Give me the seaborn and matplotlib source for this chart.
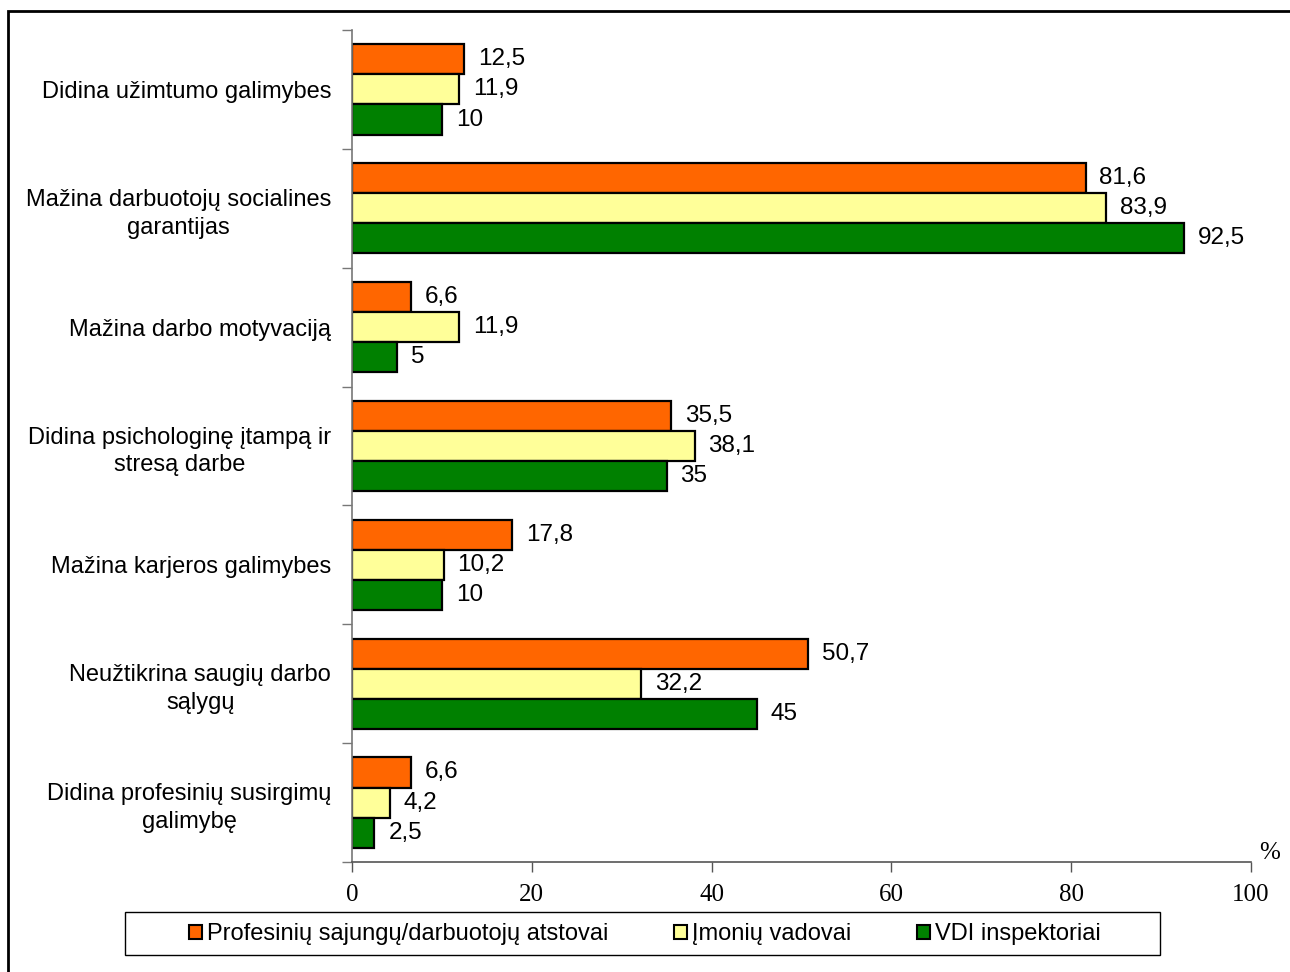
import numpy as np
import pandas as pd
import matplotlib
matplotlib.use("Agg")
import matplotlib.pyplot as plt
import seaborn as sns
from matplotlib.patches import Rectangle, Patch

# 数据
categories = [
    "Didina užimtumo galimybes",
    "Mažina darbuotojų socialines\ngarantijas",
    "Mažina darbo motyvaciją",
    "Didina psichologinę įtampą ir\nstresą darbe",
    "Mažina karjeros galimybes",
    "Neužtikrina saugių darbo\nsąlygų",
    "Didina profesinių susirgimų\ngalimybę",
]
series_names = ["Profesinių sajungų/darbuotojų atstovai", "Įmonių vadovai", "VDI inspektoriai"]
profsajungos = [12.5, 81.6, 6.6, 35.5, 17.8, 50.7, 6.6]
vadovai = [11.9, 83.9, 11.9, 38.1, 10.2, 32.2, 4.2]
inspektoriai = [10, 92.5, 5, 35, 10, 45, 2.5]
x_ticks = [0, 20, 40, 60, 80, 100]

colors = ["#FF6600", "#FFFF99", "#008000"]

df = pd.DataFrame({
    "kategorija": categories * 3,
    "grupe": sum([[s] * len(categories) for s in series_names], []),
    "reiksme": profsajungos + vadovai + inspektoriai,
})

sns.set_style("white")
plt.rcParams["font.family"] = ["Liberation Sans", "DejaVu Sans"]
plt.rcParams["text.color"] = "black"
plt.rcParams["xtick.color"] = "black"
plt.rcParams["ytick.color"] = "black"

fig = plt.figure(figsize=(12.9, 9.72), dpi=100)
ax = fig.add_axes([352 / 1290, 1 - 862 / 972, 899 / 1290, 832 / 972])

sns.barplot(
    data=df, y="kategorija", x="reiksme", hue="grupe",
    order=categories, hue_order=series_names,
    palette=colors, orient="h", width=0.76,
    edgecolor="black", linewidth=1.6, saturation=1,
    legend=False, ax=ax,
)


def fmt(v):
    return f"{v:g}".replace(".", ",")


for cont in ax.containers:
    ax.bar_label(cont, labels=[fmt(b.get_width()) for b in cont],
                 padding=10, fontsize=17.5, color="black")

ax.set_xlim(0, 100)
ax.set_ylim(len(categories) - 0.5, -0.5)
ax.set_xticks(x_ticks)
ax.set_xticklabels([str(t) for t in x_ticks], family="Liberation Serif", fontsize=18)
ax.tick_params(axis="x", bottom=True, direction="out", length=7, width=1,
               color="#555555", labelcolor="black", pad=9)

# y ticks at boundaries, labels at centres
ax.set_yticks(np.arange(-0.5, len(categories)), minor=False)
ax.set_yticklabels([])
ax.set_yticks(np.arange(len(categories)), minor=True)
ax.set_yticklabels(categories, minor=True, fontsize=17, multialignment="center",
                   linespacing=1.35)
ax.tick_params(axis="y", which="major", left=True, direction="out", length=7,
               width=1, color="#777777")
ax.tick_params(axis="y", which="minor", left=True, length=0, pad=15, labelcolor="black")

ax.set_xlabel("")
ax.set_ylabel("")
for s in ["top", "right"]:
    ax.spines[s].set_visible(False)
ax.spines["left"].set_color("#777777")
ax.spines["bottom"].set_color("#555555")
ax.spines["left"].set_linewidth(1.2)
ax.spines["bottom"].set_linewidth(1.2)

fig.text(1270 / 1290, 1 - 853 / 972, "%", family="Liberation Serif", fontsize=18,
         ha="center", va="center", color="black")

# legend
handles = [Patch(facecolor=c, edgecolor="black", linewidth=1.5) for c in colors]
fig.legend(handles, series_names, loc="center", bbox_to_anchor=(645 / 1290, 1 - 934 / 972),
           ncol=3, frameon=False, fontsize=17, handlelength=0.55, handleheight=0.55,
           handletextpad=0.2, columnspacing=2.8, labelcolor="black")
fig.patches.append(Rectangle((125 / 1290, 1 - 955 / 972), 1035 / 1290, 43 / 972,
                             transform=fig.transFigure, fill=False,
                             edgecolor="black", linewidth=1, figure=fig))
# outer frame
fig.patches.append(Rectangle((8 / 1290, -0.05), 1.2, 1 - 11 / 972 + 0.05,
                             transform=fig.transFigure, fill=False,
                             edgecolor="black", linewidth=2, figure=fig))

fig.savefig("out.png", dpi=100)
